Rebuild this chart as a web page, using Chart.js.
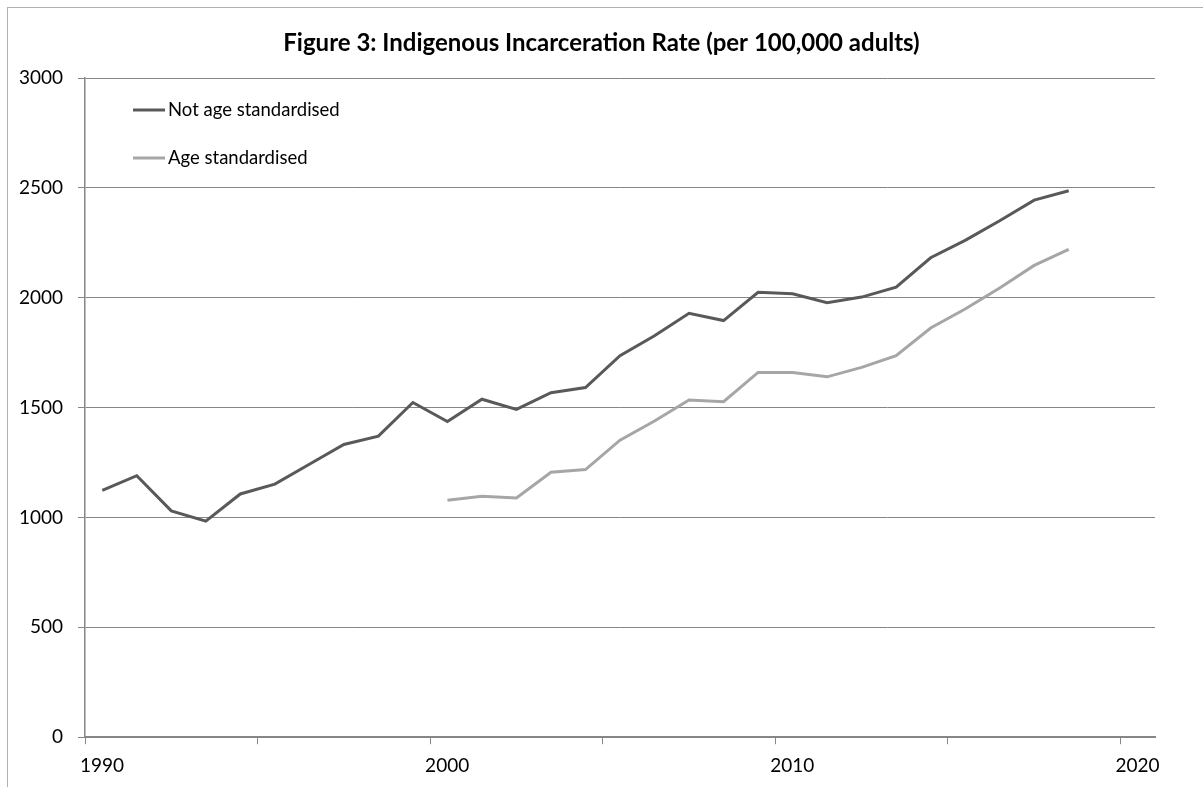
<!DOCTYPE html>
<html lang="en">
<head>
    <meta charset="UTF-8">
    <title>Figure 3: Indigenous Incarceration Rate</title>
    <script src="https://cdn.jsdelivr.net/npm/chart.js"></script>
    <style>
        html, body {
            margin: 0;
            padding: 0;
            background: white;
            overflow: hidden;
        }
        .frame {
            position: absolute;
            left: 7px;
            top: 7px;
            width: 1400px;
            height: 1000px;
            border: 1px solid #b0b0b0;
        }
        .chart-container {
            position: absolute;
            left: 0;
            top: 0;
            width: 1203px;
            height: 787px;
        }
    </style>
</head>
<body>
    <div class="frame"></div>
    <div class="chart-container">
        <canvas id="rateChart"></canvas>
    </div>

    <script>
        // Data (rate per 100,000 adults, one point per year)
        const years = [1990, 1991, 1992, 1993, 1994, 1995, 1996, 1997, 1998, 1999,
                       2000, 2001, 2002, 2003, 2004, 2005, 2006, 2007, 2008, 2009,
                       2010, 2011, 2012, 2013, 2014, 2015, 2016, 2017, 2018];
        const notAgeStd = [1123, 1190, 1030, 983, 1107, 1152, 1242, 1332, 1370, 1523,
                           1437, 1538, 1492, 1568, 1591, 1736, 1827, 1929, 1896, 2025,
                           2018, 1977, 2003, 2048, 2182, 2261, 2350, 2444, 2487];
        const ageStd = [null, null, null, null, null, null, null, null, null, null,
                        1078, 1096, 1089, 1206, 1218, 1352, 1439, 1535, 1527, 1660,
                        1660, 1640, 1683, 1736, 1862, 1949, 2044, 2147, 2220];
        const xLabels = [1990, 2000, 2010, 2020];
        const yTicks = [0, 500, 1000, 1500, 2000, 2500, 3000];
        const titleText = 'Figure 3: Indigenous Incarceration Rate (per 100,000 adults)';

        const FONT = 'Lato, "Open Sans", sans-serif';
        const AXIS_GREY = '#868686';

        // title centred on the whole figure, not just the plot
        const figureTitle = {
            id: 'figureTitle',
            afterDraw(chart) {
                const ctx = chart.ctx;
                ctx.save();
                ctx.font = 'bold 24px ' + FONT;
                ctx.fillStyle = '#000';
                ctx.textAlign = 'center';
                ctx.textBaseline = 'middle';
                ctx.fillText(titleText, chart.width / 2, 43);
                ctx.restore();
            }
        };

        // legend drawn inside the plot, top left, like the original
        const insideLegend = {
            id: 'insideLegend',
            afterDraw(chart) {
                const ctx = chart.ctx;
                const area = chart.chartArea;
                ctx.save();
                ctx.font = '18.5px ' + FONT;
                ctx.textBaseline = 'middle';
                chart.data.datasets.forEach((ds, i) => {
                    const y = area.top + 32 + i * 48;
                    const x = area.left + 48;
                    ctx.strokeStyle = ds.borderColor;
                    ctx.lineWidth = 3;
                    ctx.beginPath();
                    ctx.moveTo(x, y);
                    ctx.lineTo(x + 32, y);
                    ctx.stroke();
                    ctx.fillStyle = '#000';
                    ctx.fillText(ds.label, x + 35, y);
                });
                ctx.restore();
            }
        };

        new Chart(document.getElementById('rateChart'), {
            type: 'line',
            data: {
                datasets: [{
                    label: 'Not age standardised',
                    data: years.map((yr, i) => ({ x: yr, y: notAgeStd[i] })),
                    borderColor: '#595959',
                    borderWidth: 3,
                    pointRadius: 0,
                    tension: 0
                }, {
                    label: 'Age standardised',
                    data: years.map((yr, i) => ({ x: yr, y: ageStd[i] })),
                    borderColor: '#a6a6a6',
                    borderWidth: 3,
                    pointRadius: 0,
                    tension: 0
                }]
            },
            options: {
                responsive: true,
                maintainAspectRatio: false,
                animation: false,
                layout: {
                    padding: { left: 0, right: 48, top: 78, bottom: 0 }
                },
                plugins: {
                    legend: { display: false },
                    tooltip: { enabled: false },
                    title: { display: false }
                },
                scales: {
                    x: {
                        type: 'linear',
                        min: 1989.5,
                        max: 2020.5,
                        // tick marks sit between years, labels centred on the year
                        afterBuildTicks(scale) {
                            const t = [];
                            for (let v = 1989.5; v < 2020.5; v += 5) t.push({ value: v });
                            scale.ticks = t;
                        },
                        border: { display: true, color: AXIS_GREY, width: 2 },
                        grid: {
                            drawOnChartArea: false,
                            drawTicks: true,
                            tickLength: 7,
                            color: AXIS_GREY
                        },
                        ticks: {
                            autoSkip: false,
                            maxRotation: 0,
                            padding: 10,
                            labelOffset: 17,
                            color: '#000',
                            font: { family: FONT, size: 19 },
                            callback(v) {
                                const yr = v + 0.5;
                                return xLabels.includes(yr) ? String(yr) : '';
                            }
                        }
                    },
                    y: {
                        min: 0,
                        max: 3000,
                        afterBuildTicks(scale) {
                            scale.ticks = yTicks.map(v => ({ value: v }));
                        },
                        afterFit(scale) {
                            scale.width = 85;
                        },
                        border: { display: true, color: AXIS_GREY, width: 1.5 },
                        grid: {
                            color: AXIS_GREY,
                            lineWidth: 1,
                            tickLength: 7
                        },
                        ticks: {
                            padding: 15,
                            color: '#000',
                            font: { family: FONT, size: 19 },
                            callback: v => String(v)
                        }
                    }
                }
            },
            plugins: [figureTitle, insideLegend]
        });
    </script>
</body>
</html>
